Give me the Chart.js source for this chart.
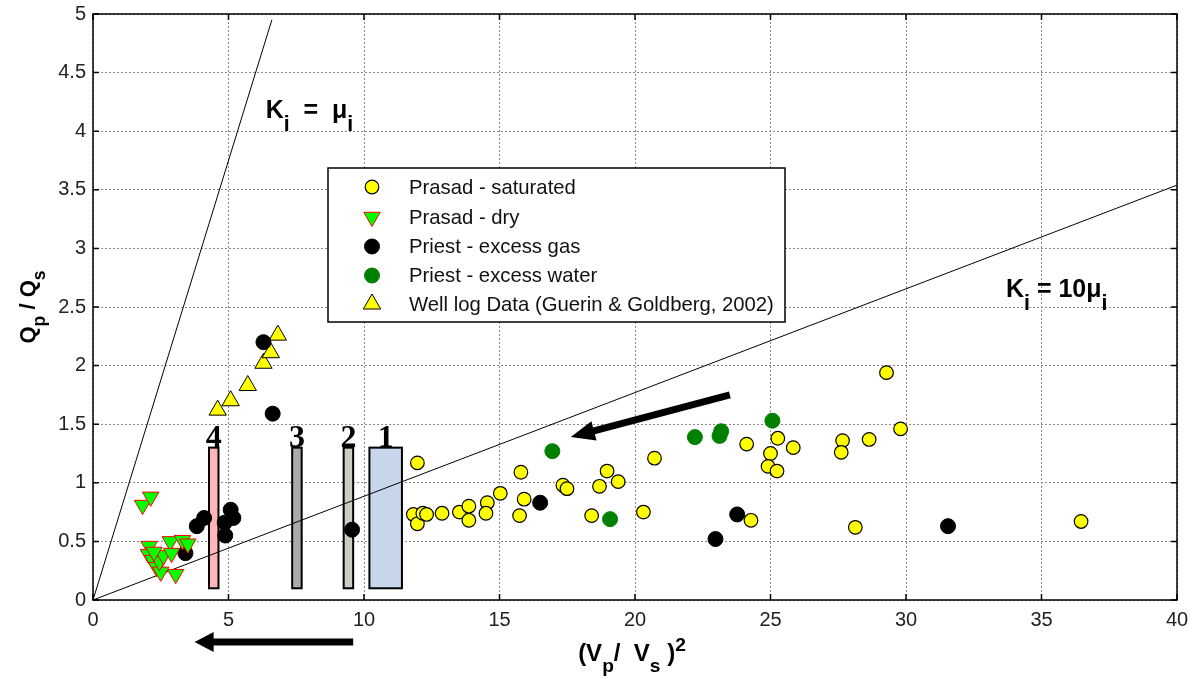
<!DOCTYPE html>
<html lang="en">
<head>
    <meta charset="UTF-8">
    <title>Qp/Qs vs (Vp/Vs)^2</title>
    <script src="https://cdn.jsdelivr.net/npm/chart.js@4.4.1/dist/chart.umd.min.js"></script>
    <style>
        html, body { margin: 0; padding: 0; background: #fff; }
        #wrap { width: 1197px; height: 679px; }
    </style>
</head>
<body>
<div id="wrap">
    <canvas id="chart" width="1197" height="679"></canvas>
</div>
<script>
// data
const satX = [11.97, 11.82, 11.97, 12.17, 12.31, 12.88, 13.52, 13.87, 13.87, 14.55, 14.5, 15.03, 15.79, 15.91, 15.74, 17.34, 17.49, 18.97, 18.69, 19.38, 18.4, 20.72, 20.31, 24.12, 25.0, 24.91, 25.24, 25.27, 25.84, 24.28, 27.66, 27.61, 28.64, 29.28, 29.8, 28.13, 36.46];
const satY = [1.17, 0.73, 0.65, 0.74, 0.73, 0.74, 0.75, 0.80, 0.68, 0.83, 0.74, 0.91, 1.09, 0.86, 0.72, 0.98, 0.95, 1.10, 0.97, 1.01, 0.72, 1.21, 0.75, 1.33, 1.25, 1.14, 1.10, 1.38, 1.30, 0.68, 1.36, 1.26, 1.37, 1.94, 1.46, 0.62, 0.67];

const dryX = [1.83, 2.13, 2.07, 2.05, 2.2, 2.35, 2.5, 2.45, 2.6, 2.25, 2.85, 2.9, 3.05, 3.3, 3.5];
const dryY = [0.81, 0.88, 0.46, 0.39, 0.34, 0.28, 0.24, 0.33, 0.38, 0.41, 0.50, 0.40, 0.22, 0.51, 0.48];

const gasX = [3.41, 3.83, 4.1, 4.86, 5.08, 5.18, 4.88, 6.63, 9.56, 6.29, 16.5, 23.77, 22.97, 31.55];
const gasY = [0.40, 0.63, 0.70, 0.66, 0.77, 0.70, 0.55, 1.59, 0.60, 2.20, 0.83, 0.73, 0.52, 0.63];

const waterX = [16.95, 22.21, 23.12, 23.18, 25.07, 19.08];
const waterY = [1.27, 1.39, 1.40, 1.44, 1.53, 0.69];

const wellX = [4.6, 5.08, 5.71, 6.29, 6.56, 6.82];
const wellY = [1.62, 1.70, 1.83, 2.02, 2.11, 2.26];

// reference lines K = mu and K = 10 mu
const lineEqX = [0, 6.6];
const lineEqY = [0, 4.95];
const line10X = [0, 40];
const line10Y = [0, 3.54];

// numbered zones
const zoneLabels = ['1', '2', '3', '4'];
const zoneXmin = [10.2, 9.25, 7.35, 4.28];
const zoneXmax = [11.4, 9.6, 7.7, 4.63];
const zoneYmin = 0.1;
const zoneYmax = 1.3;

// arrows (data units)
const arrowTop = [23.5, 1.75, 17.63, 1.39];
const arrowBottomX = [9.6, 3.75];

const xTicks = [0, 5, 10, 15, 20, 25, 30, 35, 40];
const yTicks = [0, 0.5, 1, 1.5, 2, 2.5, 3, 3.5, 4, 4.5, 5];

const FONT = '"Liberation Sans", Arial, sans-serif';

function pts(xs, ys) {
    return xs.map((v, i) => ({ x: v, y: ys[i] }));
}

// draws text with sub/superscripts: parts = [[text, kind]], kind 0 normal, 1 sub, 2 sup
function drawRich(ctx, parts, x, y, size, opt) {
    opt = opt || {};
    const subScale = opt.subScale || 0.8;
    const subOff = opt.subOff || 0.45;
    const seg = parts.map(p => {
        const s = p[1] ? size * subScale : size;
        ctx.font = 'bold ' + s + 'px ' + FONT;
        return { t: p[0], k: p[1], s: s, w: ctx.measureText(p[0]).width };
    });
    const total = seg.reduce((a, b) => a + b.w, 0);
    let cx = opt.center ? x - total / 2 : x;
    ctx.textAlign = 'left';
    ctx.textBaseline = 'alphabetic';
    seg.forEach(p => {
        ctx.font = 'bold ' + p.s + 'px ' + FONT;
        const dy = p.k === 1 ? size * subOff : (p.k === 2 ? -size * 0.42 : 0);
        ctx.fillText(p.t, cx, y + dy);
        cx += p.w;
    });
}

function drawArrow(ctx, x1, y1, x2, y2, w, headLen, headW) {
    const ang = Math.atan2(y2 - y1, x2 - x1);
    const c = Math.cos(ang), s = Math.sin(ang);
    const bx = x2 - c * headLen, by = y2 - s * headLen;
    ctx.lineWidth = w;
    ctx.lineCap = 'butt';
    ctx.beginPath();
    ctx.moveTo(x1, y1);
    ctx.lineTo(bx + c, by + s);
    ctx.stroke();
    ctx.beginPath();
    ctx.moveTo(x2, y2);
    ctx.lineTo(bx + s * headW, by - c * headW);
    ctx.lineTo(bx - s * headW, by + c * headW);
    ctx.closePath();
    ctx.fill();
}

const zoneColors = ['#c7d6ea', '#c9cfc1', '#ababab', '#ffb5b5'];

const overlay = {
    id: 'overlay',
    beforeDatasetsDraw(chart) {
        const { ctx, scales: { x, y } } = chart;
        ctx.save();
        for (let i = 0; i < zoneLabels.length; i++) {
            const x1 = x.getPixelForValue(zoneXmin[i]);
            const x2 = x.getPixelForValue(zoneXmax[i]);
            const y1 = y.getPixelForValue(zoneYmax);
            const y2 = y.getPixelForValue(zoneYmin);
            ctx.fillStyle = zoneColors[i];
            ctx.fillRect(x1, y1, x2 - x1, y2 - y1);
            ctx.lineWidth = 2;
            ctx.strokeStyle = '#000';
            ctx.strokeRect(x1, y1, x2 - x1, y2 - y1);
            ctx.fillStyle = '#000';
            ctx.font = 'bold 32px "Liberation Serif", "Times New Roman", serif';
            ctx.textAlign = 'center';
            ctx.textBaseline = 'alphabetic';
            ctx.fillText(zoneLabels[i], (x1 + x2) / 2, y1 - 1);
        }
        ctx.restore();
    },
    afterDraw(chart) {
        const { ctx, chartArea: a, scales: { x, y } } = chart;
        ctx.save();

        // plot box and inner ticks
        ctx.strokeStyle = '#000';
        ctx.lineWidth = 1.5;
        ctx.strokeRect(a.left, a.top, a.right - a.left, a.bottom - a.top);
        ctx.beginPath();
        yTicks.forEach(v => {
            const py = y.getPixelForValue(v);
            ctx.moveTo(a.left, py); ctx.lineTo(a.left + 6, py);
            ctx.moveTo(a.right, py); ctx.lineTo(a.right - 6, py);
        });
        xTicks.forEach(v => {
            const px = x.getPixelForValue(v);
            ctx.moveTo(px, a.bottom); ctx.lineTo(px, a.bottom - 6);
            ctx.moveTo(px, a.top); ctx.lineTo(px, a.top + 6);
        });
        ctx.stroke();

        // arrows
        ctx.fillStyle = '#000';
        ctx.strokeStyle = '#000';
        drawArrow(ctx,
            x.getPixelForValue(arrowTop[0]), y.getPixelForValue(arrowTop[1]),
            x.getPixelForValue(arrowTop[2]), y.getPixelForValue(arrowTop[3]),
            7, 24, 10);
        drawArrow(ctx,
            x.getPixelForValue(arrowBottomX[0]), a.bottom + 42,
            x.getPixelForValue(arrowBottomX[1]), a.bottom + 42,
            7, 19, 10);

        // line labels
        ctx.fillStyle = '#000';
        const kOpt = { subScale: 0.85, subOff: 0.5 };
        drawRich(ctx, [['K', 0], ['i', 1], ['  =  \u03bc', 0], ['i', 1]],
            x.getPixelForValue(6.37), y.getPixelForValue(4.11), 25, kOpt);
        drawRich(ctx, [['K', 0], ['i', 1], [' = 10\u03bc', 0], ['i', 1]],
            x.getPixelForValue(33.69), y.getPixelForValue(2.585), 25, kOpt);

        // axis titles
        const tOpt = { center: true, subScale: 0.8, subOff: 0.45 };
        drawRich(ctx, [['(V', 0], ['p', 1], ['/  V', 0], ['s', 1], [' )', 0], ['2', 2]],
            (a.left + a.right) / 2 - 3, 661, 24, tOpt);
        ctx.save();
        ctx.translate(35, (a.top + a.bottom) / 2);
        ctx.rotate(-Math.PI / 2);
        drawRich(ctx, [['Q', 0], ['p', 1], [' / Q', 0], ['s', 1]], 0, 0, 22, tOpt);
        ctx.restore();

        // legend
        const lx = 328, ly = 168, lw = 457, lh = 154;
        ctx.fillStyle = '#fff';
        ctx.fillRect(lx, ly, lw, lh);
        ctx.strokeStyle = '#000';
        ctx.lineWidth = 1.5;
        ctx.strokeRect(lx, ly, lw, lh);
        const rows = [187, 217, 246.5, 275.5, 304];
        chart.data.datasets.slice(0, 5).forEach((ds, i) => {
            ctx.fillStyle = ds.backgroundColor;
            ctx.strokeStyle = ds.borderColor;
            ctx.lineWidth = ds.borderWidth;
            Chart.helpers.drawPoint(ctx, {
                pointStyle: ds.pointStyle,
                rotation: ds.rotation || 0,
                radius: ds.pointRadius,
                borderWidth: ds.borderWidth
            }, lx + 44, rows[i]);
            ctx.fillStyle = '#111';
            ctx.font = '20.3px ' + FONT;
            ctx.textAlign = 'left';
            ctx.textBaseline = 'middle';
            ctx.fillText(ds.label, lx + 81, rows[i] + 1);
        });

        ctx.restore();
    }
};

const ctx = document.getElementById('chart').getContext('2d');
new Chart(ctx, {
    type: 'scatter',
    data: {
        datasets: [
            { label: 'Prasad - saturated', data: pts(satX, satY), pointStyle: 'circle', pointRadius: 6.8,
              backgroundColor: '#ffff00', borderColor: '#000', borderWidth: 1.2 },
            { label: 'Prasad - dry', data: pts(dryX, dryY), pointStyle: 'triangle', rotation: 180, pointRadius: 9.5,
              backgroundColor: '#00ff00', borderColor: '#ff0000', borderWidth: 1 },
            { label: 'Priest - excess gas', data: pts(gasX, gasY), pointStyle: 'circle', pointRadius: 7.5,
              backgroundColor: '#000', borderColor: '#000', borderWidth: 1 },
            { label: 'Priest - excess water', data: pts(waterX, waterY), pointStyle: 'circle', pointRadius: 7.5,
              backgroundColor: '#008000', borderColor: '#008000', borderWidth: 1 },
            { label: 'Well log Data (Guerin & Goldberg, 2002)', data: pts(wellX, wellY), pointStyle: 'triangle', pointRadius: 10,
              backgroundColor: '#ffff00', borderColor: '#000', borderWidth: 1 },
            { label: 'K = mu', data: pts(lineEqX, lineEqY), showLine: true, pointRadius: 0,
              borderColor: '#000', borderWidth: 1 },
            { label: 'K = 10 mu', data: pts(line10X, line10Y), showLine: true, pointRadius: 0,
              borderColor: '#000', borderWidth: 1 }
        ]
    },
    options: {
        responsive: false,
        animation: false,
        layout: { padding: { top: 14, right: 20, left: 0, bottom: 0 } },
        plugins: { legend: { display: false }, tooltip: { enabled: false } },
        scales: {
            x: {
                type: 'linear', min: 0, max: 40,
                afterFit(s) { s.height = 79; s.paddingLeft = 0; s.paddingRight = 0; },
                ticks: { stepSize: 5, color: '#222', padding: 8, font: { family: FONT, size: 20 },
                         callback: v => String(v) },
                grid: { color: '#8a8a8a', lineWidth: 1, drawTicks: false },
                border: { display: false, dash: [2, 2] }
            },
            y: {
                type: 'linear', min: 0, max: 5,
                afterFit(s) { s.width = 93; s.paddingTop = 0; s.paddingBottom = 0; },
                ticks: { stepSize: 0.5, color: '#222', padding: 7, font: { family: FONT, size: 20 },
                         callback: v => String(v) },
                grid: { color: '#8a8a8a', lineWidth: 1, drawTicks: false },
                border: { display: false, dash: [2, 2] }
            }
        }
    },
    plugins: [overlay]
});
</script>
</body>
</html>
